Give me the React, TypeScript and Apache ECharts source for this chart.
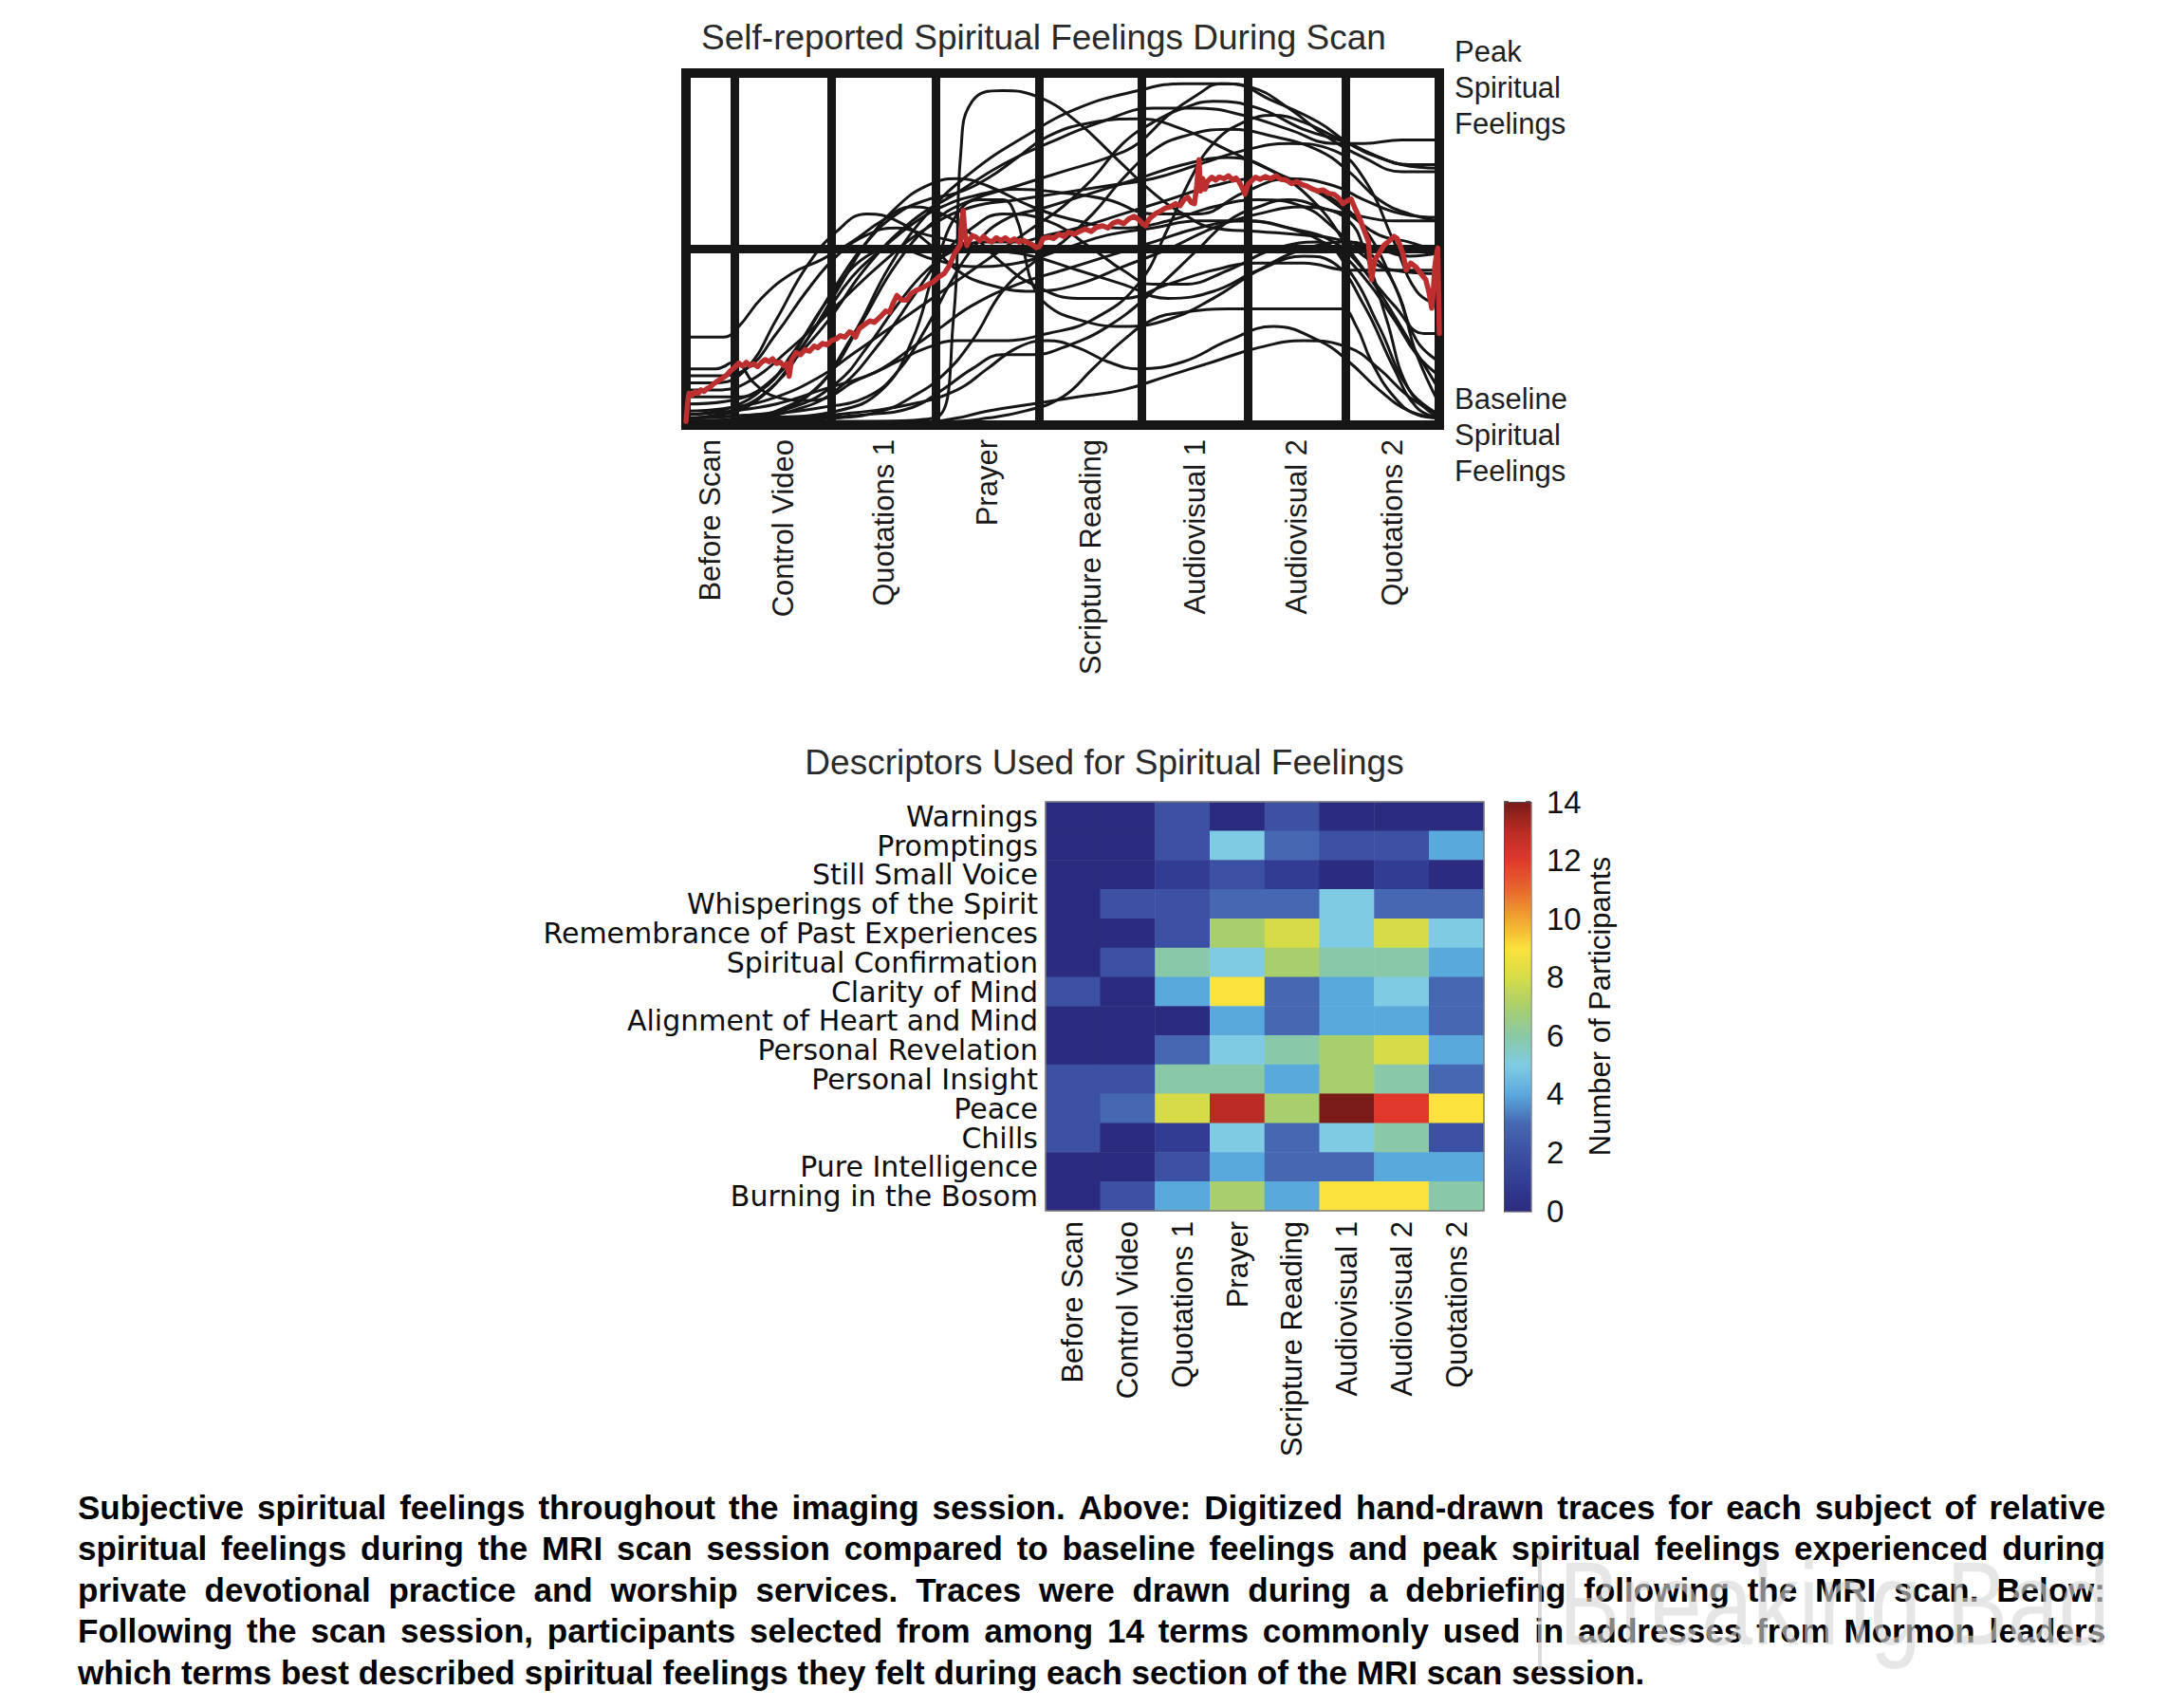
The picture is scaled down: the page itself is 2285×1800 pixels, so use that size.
import React, { useEffect, useRef } from "react";
import * as echarts from "echarts";

// ---------- data ----------
const sectionNames = [
  "Before Scan",
  "Control Video",
  "Quotations 1",
  "Prayer",
  "Scripture Reading",
  "Audiovisual 1",
  "Audiovisual 2",
  "Quotations 2",
];
// section boundaries along the scan session (relative time, 0..100)
const sectionBounds = [0, 6.5, 19.3, 33.1, 46.9, 60.5, 74.6, 87.5, 100];
// relative spiritual feeling: 0 = baseline, 50 = midpoint, 100 = peak
const feelingMid = 50;

const descriptors = [
  "Warnings",
  "Promptings",
  "Still Small Voice",
  "Whisperings of the Spirit",
  "Remembrance of Past Experiences",
  "Spiritual Confirmation",
  "Clarity of Mind",
  "Alignment of Heart and Mind",
  "Personal Revelation",
  "Personal Insight",
  "Peace",
  "Chills",
  "Pure Intelligence",
  "Burning in the Bosom",
];
// number of participants per descriptor (rows) and section (columns)
const warnings = [0, 0, 2, 0, 2, 0, 0, 0];
const promptings = [0, 0, 2, 5, 3, 2, 2, 4];
const stillSmallVoice = [0, 0, 1, 2, 1, 0, 1, 0];
const whisperings = [0, 2, 2, 3, 3, 5, 3, 3];
const remembrance = [0, 0, 2, 7, 8, 5, 8, 5];
const confirmation = [0, 2, 6, 5, 7, 6, 6, 4];
const clarity = [2, 0, 4, 9, 3, 4, 5, 3];
const alignment = [0, 0, 0, 4, 3, 4, 4, 3];
const revelation = [0, 0, 3, 5, 6, 7, 8, 4];
const insight = [2, 2, 6, 6, 4, 7, 6, 3];
const peace = [2, 3, 8, 13, 7, 14, 12, 9];
const chills = [2, 0, 1, 5, 3, 5, 6, 2];
const pureIntelligence = [0, 0, 2, 4, 3, 3, 4, 4];
const burning = [0, 2, 4, 7, 4, 9, 9, 6];
const descriptorCounts = [
  warnings, promptings, stillSmallVoice, whisperings, remembrance, confirmation, clarity,
  alignment, revelation, insight, peace, chills, pureIntelligence, burning,
];

const countMin = 0;
const countMax = 14;
const countTickStep = 2;
const colormap = [
  "#2b2c7f", "#333c95", "#3c51a3", "#4667b1", "#5aa9dd", "#7fcbe4", "#89c9a7", "#a9cf6c",
  "#d6dc48", "#fbe23d", "#f2a530", "#e8692c", "#e0392c", "#ba2b25", "#7a1b18",
];

// hand-drawn traces, one per subject: [time, feeling]
const subjectTraces: number[][][] = [
  [[0,2],[5,3],[10,8],[15,20],[19,30],[24,45],[30,58],[36,66],[42,74],[48,80],[55,86],[62,90],[68,90],[74,88],[80,84],[86,80],[90,80],[95,81],[100,81]],
  [[0,1],[8,2],[16,8],[22,25],[27,45],[32,60],[38,72],[45,82],[52,90],[60,95],[66,97],[72,97],[78,92],[84,86],[88,80],[92,76],[96,74],[100,74]],
  [[0,1],[20,1],[33,2],[35.5,30],[36.5,78],[38,92],[42,95],[47,93],[52,86],[57,76],[62,66],[66,60],[70,56],[76,55],[82,54],[86,53],[90,50],[94,40],[97,20],[100,6]],
  [[0,0.5],[6,1],[12,4],[18,12],[23,28],[28,46],[33,58],[38,64],[44,68],[50,72],[56,76],[60,80],[64,88],[68,94],[71,97],[75,96],[80,90],[85,82],[90,76],[95,72],[100,72]],
  [[0,12],[4,12],[8,16],[12,30],[16,45],[20,55],[24,60],[28,58],[32,52],[36,44],[40,40],[46,38],[52,40],[58,45],[64,50],[70,56],[76,60],[82,62],[88,60],[94,58],[100,58]],
  [[0,3],[6,5],[12,14],[18,30],[22,42],[26,50],[30,57],[34,62],[38,65],[44,67],[50,66],[56,64],[62,60],[68,60],[74,66],[80,70],[86,68],[90,64],[95,60],[100,59]],
  [[0,25],[5,25],[7,28],[10,36],[14,43],[18,47],[22,52],[26,58],[30,62],[34,60],[38,54],[42,46],[46,40],[52,36],[58,36],[64,40],[70,44],[76,46],[82,46],[88,44],[94,44],[100,44]],
  [[0,2],[10,3],[18,5],[24,8],[28,15],[32,28],[35,40],[38,50],[42,58],[48,62],[54,66],[60,70],[66,74],[72,76],[78,72],[84,62],[88,50],[92,38],[96,24],[100,10]],
  [[0,1],[20,1],[35,1],[40,2],[45,4],[50,8],[54,16],[58,24],[62,30],[66,32],[72,33],[80,33],[87,33],[89,28],[91,18],[94,8],[97,3],[100,2]],
  [[0,0.5],[15,0.5],[30,0.5],[36,2],[40,4],[46,6],[52,8],[58,10],[64,14],[70,18],[76,22],[82,24],[88,22],[92,16],[96,8],[100,3]],
  [[0,8],[6,8],[10,10],[14,20],[19,36],[24,48],[28,50],[33,47],[38,45],[44,46],[50,50],[56,54],[62,56],[68,58],[74,58],[80,56],[86,52],[90,44],[94,34],[98,26],[100,26]],
  [[0,16],[4,16],[6.5,18],[9,12],[12,8],[16,7],[19,8],[22,12],[26,16],[30,22],[34,28],[38,34],[44,40],[50,44],[56,48],[62,52],[68,56],[74,58],[80,56],[86,50],[90,42],[94,30],[97,20],[100,14]],
  [[0,14],[4,14],[8,16],[12,26],[16,38],[20,48],[24,54],[28,56],[32,54],[36,52],[40,50],[46,48],[52,44],[58,40],[64,36],[70,38],[76,44],[82,48],[86,46],[90,34],[94,16],[97,5],[100,2]],
  [[0,1],[8,2],[14,4],[20,10],[26,24],[30,36],[34,48],[38,56],[42,60],[48,58],[54,50],[58,44],[62,40],[66,40],[72,44],[78,50],[84,52],[88,44],[92,28],[96,10],[100,3]],
  [[0,2],[6,4],[12,12],[16,24],[20,38],[24,52],[28,62],[32,68],[36,70],[40,68],[46,62],[52,58],[58,56],[64,58],[70,62],[76,64],[82,62],[86,56],[90,48],[94,44],[100,43]],
  [[0,1],[10,2],[20,4],[26,10],[30,24],[33,44],[36,60],[39,64],[42,64],[44,58],[45,48],[46,40],[48,34],[52,30],[58,28],[64,30],[70,36],[76,44],[82,50],[88,52],[92,50],[96,48],[100,49]],
  [[0,3],[6,4],[12,6],[18,10],[24,14],[28,18],[32,22],[36,24],[42,24],[48,26],[54,30],[60,40],[64,56],[67,70],[70,80],[74,86],[78,88],[82,86],[86,82],[90,78],[95,74],[100,73]],
  [[0,6],[6,7],[12,14],[16,26],[20,40],[24,52],[28,60],[32,64],[36,66],[40,70],[44,76],[48,82],[54,86],[60,87],[66,84],[72,78],[78,72],[84,66],[88,60],[92,54],[96,52],[100,49]],
  [[0,1],[12,1.5],[24,3],[30,5],[34,10],[38,16],[42,20],[46,20],[50,22],[56,28],[62,38],[68,50],[72,58],[76,62],[80,64],[84,62],[88,58],[90,50],[93,30],[96,10],[100,2]],
  [[0,2],[6,2.5],[14,5],[20,12],[24,22],[28,34],[32,44],[36,50],[40,52],[44,52],[48,54],[52,56],[58,60],[64,64],[70,68],[76,70],[82,68],[86,64],[90,56],[94,40],[97,24],[100,18]],
  [[0,0.5],[10,1],[20,2],[26,4],[30,8],[34,14],[38,24],[42,38],[46,46],[50,52],[54,60],[58,70],[62,78],[66,82],[72,84],[78,82],[84,78],[88,72],[92,64],[96,60],[100,58]],
  [[0,4],[6,5],[12,8],[18,14],[22,20],[26,26],[30,32],[34,38],[38,44],[42,50],[46,56],[50,62],[54,70],[58,80],[62,86],[66,90],[70,92],[76,90],[82,84],[88,80],[92,76],[96,74],[100,74]],
  [[0,1],[10,1.5],[20,3],[30,6],[36,10],[40,16],[44,22],[48,24],[52,22],[56,18],[60,16],[66,18],[72,24],[78,28],[84,24],[88,18],[92,10],[96,4],[100,2]],
  [[0,10],[4,10],[8,12],[14,22],[20,34],[26,46],[32,56],[38,62],[44,64],[50,66],[56,68],[62,70],[68,74],[74,78],[80,80],[86,78],[90,70],[94,52],[97,38],[100,34]],
];

// average trace across subjects
const meanTrace: number[][] = [
  [0,1],[0.2,6],[0.4,9],[0.8,8.5],[1.2,9.5],[1.6,9],[2.0,10],[2.4,9.6],[2.8,10.4],[3.2,10.8],[3.6,11.6],[4.0,12.2],[4.4,12.8],[4.9,13.4],[5.4,14.2],[5.9,15.4],[6.4,16.3],[7.0,17.6],[7.5,16.8],[8.0,17.8],[8.5,16.9],[9.0,17.4],[9.5,16.6],[10.0,17.8],[10.5,18.6],[11.0,18.0],[11.5,18.8],[12.0,17.5],[12.5,17.9],[13.0,16.8],[13.4,17.5],[13.7,13.9],[14.0,18.5],[14.6,20.6],[15.2,20.0],[15.8,21.4],[16.4,21.0],[17.0,22.4],[17.5,22.0],[18.1,23.2],[18.7,22.8],[19.3,24.0],[19.9,24.4],[20.5,25.4],[21.1,25.0],[21.7,26.5],[22.2,26.0],[22.5,25.0],[23.0,27.4],[23.8,28.7],[24.4,29.6],[25.0,29.2],[25.9,31.0],[26.5,32.4],[27.0,32.0],[27.5,34.6],[28.0,36.8],[28.6,35.6],[29.3,35.5],[29.9,37.4],[30.5,38.2],[31.2,38.8],[32.2,40.0],[32.8,40.6],[33.5,42.0],[34.3,43.1],[35.0,45.4],[35.6,48.5],[36.1,50.2],[36.4,51.2],[36.6,58],[36.8,61],[37.0,55],[37.3,51],[37.5,52],[38.0,53.8],[38.5,53.4],[39.0,52.4],[39.5,53.6],[40.0,52.6],[40.6,52],[41.2,53.2],[41.8,52.4],[42.4,53.2],[43.0,52.2],[43.6,52.9],[44.2,52.0],[44.8,52.5],[45.4,51.8],[46.0,51.2],[46.5,50.4],[46.9,50.7],[47.4,53.0],[48.2,53.4],[48.8,53.0],[49.5,54.2],[50.2,53.6],[50.8,54.8],[51.5,54.2],[52.2,55.0],[53.0,55.7],[53.8,55.0],[54.5,56.2],[55.3,56.6],[56.0,56.0],[56.7,57.4],[57.4,57.9],[58.1,57.2],[58.8,58.6],[59.5,59.3],[60.2,58.2],[60.7,57.0],[61.0,56.6],[61.5,58.6],[62.4,60.2],[63.0,60.8],[63.6,61.6],[64.3,62.0],[65.0,62.9],[65.6,62.3],[66.1,64.0],[66.6,64.7],[67.1,63.2],[67.5,62.9],[67.8,68],[68.1,75.4],[68.3,66.5],[68.6,70],[68.9,67],[69.2,69.2],[69.8,70.4],[70.3,69.6],[70.8,70.5],[71.4,70.0],[72.0,70.8],[72.6,69.6],[73.0,70.2],[73.4,69.2],[73.8,67.6],[74.2,65.6],[74.6,68.4],[75.0,69.2],[75.6,70.4],[76.2,69.8],[76.9,70.6],[77.6,70.0],[78.3,70.8],[79.0,69.8],[79.7,69.6],[80.4,68.6],[81.1,69.2],[81.8,68.3],[82.5,67.8],[83.2,67.0],[83.9,66.5],[84.6,66.8],[85.3,65.8],[86.0,65.6],[86.6,64.6],[87.2,62.9],[87.7,63.6],[88.3,64.2],[88.8,61.6],[89.3,59.3],[89.9,56.0],[90.6,52.1],[90.8,46],[91.0,41.3],[91.2,44],[91.4,46.7],[92.0,48.8],[92.7,51.2],[93.4,52.4],[94.0,53.6],[94.4,53.0],[94.8,51.0],[95.2,48.5],[95.6,44.0],[96.2,46.0],[96.9,44.9],[97.5,43.2],[98.2,41.3],[98.6,38.0],[99.0,33.2],[99.2,38],[99.4,44.9],[99.6,48],[99.8,50.3],[99.9,38],[100,26],
];

const captionLines = [
  "Subjective spiritual feelings throughout the imaging session. Above: Digitized hand-drawn traces for each subject of relative",
  "spiritual feelings during the MRI scan session compared to baseline feelings and peak spiritual feelings experienced during",
  "private devotional practice and worship services. Traces were drawn during a debriefing following the MRI scan. Below:",
  "Following the scan session, participants selected from among 14 terms commonly used in addresses from Mormon leaders",
  "which terms best described spiritual feelings they felt during each section of the MRI scan session.",
];

// ---------- layout / style ----------
const FONT = '"Liberation Sans", Arial, Helvetica, sans-serif';
const ROW_FONT = '"DejaVu Sans", "Liberation Sans", Arial, sans-serif';
const INK = "#161616";
const TOP = { left: 723, top: 77, width: 794, height: 371 };
const HEAT = { left: 1102, top: 845, width: 462, height: 431 };
const BAR = { left: 1585, top: 845, width: 28, height: 431 };
const CAP = { x: 82, width: 2137, y0: 1588, lineGap: 43.6, size: 35 };

function buildCaption(): any[] {
  const els: any[] = [];
  const canvas = document.createElement("canvas");
  const ctx = canvas.getContext("2d")!;
  ctx.font = `bold ${CAP.size}px "Liberation Sans", Arial, sans-serif`;
  captionLines.forEach((line, li) => {
    const y = CAP.y0 + li * CAP.lineGap;
    const isLast = li === captionLines.length - 1;
    if (isLast) {
      els.push({
        type: "text", x: CAP.x, y, z: 10,
        style: { text: line, fontSize: CAP.size, fontWeight: "bold", fontFamily: FONT, fill: "#000", align: "left", verticalAlign: "middle" },
      });
      return;
    }
    const words = line.split(" ");
    const widths = words.map((w) => ctx.measureText(w).width);
    const total = widths.reduce((a, b) => a + b, 0);
    const gap = (CAP.width - total) / (words.length - 1);
    let x = CAP.x;
    words.forEach((w, wi) => {
      els.push({
        type: "text", x, y, z: 10,
        style: { text: w, fontSize: CAP.size, fontWeight: "bold", fontFamily: FONT, fill: "#000", align: "left", verticalAlign: "middle" },
      });
      x += widths[wi] + gap;
    });
  });
  return els;
}

function buildOption(): any {
  const centers = sectionBounds.slice(0, -1).map((b, i) => (b + sectionBounds[i + 1]) / 2);
  const nearestSection = (v: number) => {
    let best = 0;
    centers.forEach((c, i) => {
      if (Math.abs(c - v) < Math.abs(centers[best] - v)) best = i;
    });
    return sectionNames[best];
  };

  const heatData: number[][] = [];
  descriptorCounts.forEach((row, r) => row.forEach((v, c) => heatData.push([c, r, v])));

  const traceSeries = subjectTraces.map((t, i) => ({
    type: "line",
    name: "subject " + (i + 1),
    xAxisIndex: 0,
    yAxisIndex: 0,
    data: t,
    smooth: 0.45,
    showSymbol: false,
    silent: true,
    z: 3,
    lineStyle: { color: INK, width: 3 },
  }));

  return {
    animation: false,
    backgroundColor: "#ffffff",
    textStyle: { fontFamily: FONT },
    grid: [
      { ...TOP, show: true, borderColor: INK, borderWidth: 10, backgroundColor: "transparent" },
      { ...HEAT },
      { ...BAR },
    ],
    xAxis: [
      {
        gridIndex: 0, type: "value", min: sectionBounds[0], max: sectionBounds[sectionBounds.length - 1],
        axisLine: { show: false }, axisTick: { show: false }, splitLine: { show: false },
        axisLabel: {
          customValues: centers, formatter: (v: number) => nearestSection(v),
          rotate: 90, margin: 15, fontSize: 31, color: "#1a1a1a", fontFamily: FONT,
        },
      },
      {
        gridIndex: 1, type: "category", data: sectionNames,
        axisLine: { show: false }, axisTick: { show: false }, splitLine: { show: false },
        axisLabel: { interval: 0, rotate: 90, margin: 11, fontSize: 31, color: "#111", fontFamily: FONT },
      },
      { gridIndex: 2, type: "category", data: [""], show: false },
    ],
    yAxis: [
      { gridIndex: 0, type: "value", min: 0, max: 100, show: false },
      {
        gridIndex: 1, type: "category", data: descriptors, inverse: true,
        axisLine: { show: false }, axisTick: { show: false }, splitLine: { show: false },
        axisLabel: { interval: 0, margin: 8, fontSize: 30, color: "#0d0d0d", fontFamily: ROW_FONT },
      },
      {
        gridIndex: 2, type: "value", min: countMin, max: countMax, interval: countTickStep, position: "right",
        axisLine: { show: false }, splitLine: { show: false },
        axisTick: { show: true, inside: true, length: 5, lineStyle: { color: "#333", width: 1.5 } },
        axisLabel: { margin: 17, fontSize: 33, color: "#111", fontFamily: FONT },
        name: "Number of Participants", nameLocation: "middle", nameRotate: 90, nameGap: 54,
        nameTextStyle: { fontSize: 31, color: "#111", fontFamily: FONT },
      },
      {
        gridIndex: 2, type: "value", min: countMin, max: countMax, interval: countTickStep, position: "left",
        axisLine: { show: false }, splitLine: { show: false }, axisLabel: { show: false },
        axisTick: { show: true, inside: true, length: 5, lineStyle: { color: "#333", width: 1.5 } },
      },
    ],
    visualMap: {
      type: "continuous", seriesIndex: subjectTraces.length + 2, dimension: 2,
      min: countMin, max: countMax, calculable: false, hoverLink: false,
      left: BAR.left, top: BAR.top, itemWidth: BAR.width, itemHeight: BAR.height,
      padding: 0, borderColor: "#444", borderWidth: 1.5,
      inRange: { color: colormap },
    },
    series: [
      {
        type: "line", name: "sections", xAxisIndex: 0, yAxisIndex: 0, data: [], silent: true, z: 1,
        markLine: {
          silent: true, symbol: "none", label: { show: false }, animation: false,
          lineStyle: { color: INK, width: 9, type: "solid" },
          emphasis: { disabled: true },
          data: [
            ...sectionBounds.slice(1, -1).map((b) => ({ xAxis: b })),
            { yAxis: feelingMid },
          ],
        },
      },
      ...traceSeries,
      {
        type: "line", name: "average", xAxisIndex: 0, yAxisIndex: 0, data: meanTrace,
        showSymbol: false, silent: true, z: 5,
        lineStyle: { color: "#bd2f2e", width: 5.5, join: "round", cap: "round" },
      },
      {
        type: "heatmap", name: "descriptors", xAxisIndex: 1, yAxisIndex: 1, data: heatData,
        silent: true, emphasis: { disabled: true }, itemStyle: { borderWidth: 0 },
      },
      { type: "line", name: "colorbar", xAxisIndex: 2, yAxisIndex: 2, data: [], silent: true },
    ],
    graphic: [
      {
        type: "text", x: 1100, y: 39,
        style: { text: "Self-reported Spiritual Feelings During Scan", fontSize: 37, fontFamily: FONT, fill: "#2a2a2a", align: "center", verticalAlign: "middle" },
      },
      {
        type: "text", x: 1533, y: 92,
        style: { text: "Peak\nSpiritual\nFeelings", fontSize: 31, lineHeight: 38, fontFamily: FONT, fill: "#1e1e1e", align: "left", verticalAlign: "middle" },
      },
      {
        type: "text", x: 1533, y: 458,
        style: { text: "Baseline\nSpiritual\nFeelings", fontSize: 31, lineHeight: 38, fontFamily: FONT, fill: "#1e1e1e", align: "left", verticalAlign: "middle" },
      },
      {
        type: "text", x: 1164, y: 803,
        style: { text: "Descriptors Used for Spiritual Feelings", fontSize: 37, fontFamily: FONT, fill: "#2a2a2a", align: "center", verticalAlign: "middle" },
      },
      {
        type: "rect", z: 20, silent: true,
        shape: { x: HEAT.left, y: HEAT.top, width: HEAT.width, height: HEAT.height },
        style: { fill: "none", stroke: "#7d7d7d", lineWidth: 1.5 },
      },
      ...buildCaption(),
      {
        type: "rect", z: 30, silent: true,
        shape: { x: 1621, y: 1634, width: 4, height: 128 },
        style: { fill: "rgba(200,200,200,0.65)" },
      },
      {
        type: "text", z: 30, silent: true, x: 1643, y: 1690, scaleX: 0.78,
        style: { text: "Breaking Bad", fontSize: 124, fontFamily: FONT, fill: "rgba(215,215,215,0.62)", align: "left", verticalAlign: "middle" },
      },
    ],
  };
}

export default function App() {
  const ref = useRef<HTMLDivElement>(null);
  useEffect(() => {
    if (!ref.current) return;
    const chart = echarts.init(ref.current, undefined, { renderer: "svg" });
    chart.setOption(buildOption());
    return () => chart.dispose();
  }, []);
  return (
    <div
      ref={ref}
      style={{ position: "absolute", left: 0, top: 0, width: 2285, height: 1800, background: "#fff" }}
    />
  );
}
